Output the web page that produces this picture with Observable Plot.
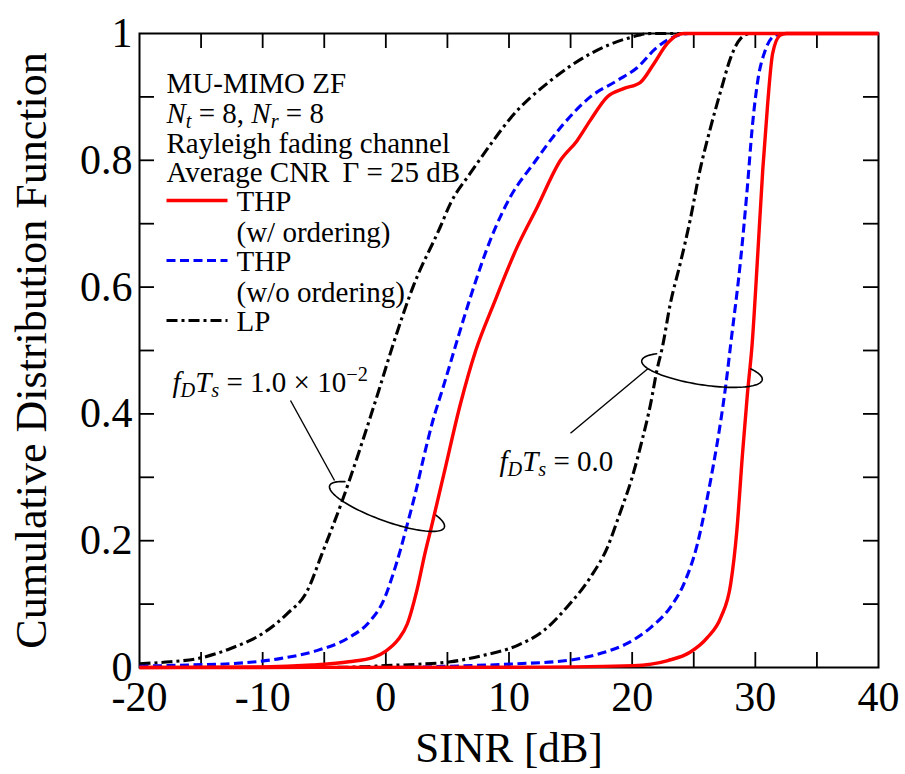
<!DOCTYPE html>
<html>
<head>
<meta charset="utf-8">
<script src="https://cdn.jsdelivr.net/npm/d3@7"></script>
<script src="https://cdn.jsdelivr.net/npm/@observablehq/plot@0.6"></script>
<style>
  html, body { margin: 0; padding: 0; background: #fff; }
</style>
</head>
<body>
<div id="chart"></div>
<script>
// ---------------- DATA ----------------
// f_D T_s = 1.0e-2
const sinrTHP_fd1 = [-20, -10, -6, -3, -1, 0, 1, 1.75, 2.5, 3.2, 3.63, 4.71, 6.06, 7.3, 8.77, 10.66, 12.29, 14.18, 15.53, 16.6, 17.97, 19.3, 20.67, 21.75, 22.84, 23.6, 24.2, 40];
const cdfTHP_fd1  = [0, 0.001, 0.004, 0.009, 0.016, 0.026, 0.044, 0.069, 0.12, 0.182, 0.216, 0.305, 0.416, 0.5, 0.574, 0.663, 0.726, 0.8, 0.831, 0.863, 0.9, 0.913, 0.923, 0.952, 0.984, 0.997, 1, 1];

const sinrTHPno_fd1 = [-20, -16, -12.6, -8.6, -5.55, -3.1, -1.25, -0.2, 0.6, 1.19, 1.73, 2.4, 3.08, 3.8, 4.62, 5.24, 5.79, 6.87, 8.5, 10.1, 12.0, 14.2, 16.6, 18.8, 20.4, 22.0, 23.7, 24.6, 40];
const cdfTHPno_fd1  = [0.002, 0.004, 0.006, 0.014, 0.027, 0.046, 0.074, 0.105, 0.148, 0.186, 0.225, 0.275, 0.332, 0.388, 0.44, 0.48, 0.516, 0.584, 0.675, 0.742, 0.795, 0.852, 0.9, 0.926, 0.946, 0.978, 0.997, 1, 1];

const sinrLP_fd1 = [-20, -17.5, -15.3, -12.6, -9.9, -8.0, -6.4, -5.17, -3.54, -2.06, -0.57, 0.6, 2.2, 4.4, 5.25, 6.87, 8.5, 10.1, 13.4, 16.6, 19.9, 21.5, 40];
const cdfLP_fd1  = [0.006, 0.009, 0.014, 0.03, 0.055, 0.085, 0.12, 0.18, 0.263, 0.347, 0.437, 0.51, 0.6, 0.694, 0.732, 0.78, 0.825, 0.866, 0.926, 0.968, 0.994, 1, 1];

// f_D T_s = 0.0
const sinrTHP_fd0 = [-20, 10, 20.1, 22.9, 24.7, 26.1, 27.2, 28.0, 28.5, 28.95, 29.35, 29.74, 30.2, 30.6, 31.0, 31.4, 32.0, 32.5, 40];
const cdfTHP_fd0  = [0, 0.0005, 0.003, 0.011, 0.024, 0.047, 0.079, 0.132, 0.216, 0.335, 0.43, 0.51, 0.653, 0.784, 0.889, 0.968, 0.997, 1, 1];

const sinrTHPno_fd0 = [-20, 0, 5.2, 10.7, 14.7, 17.4, 19.6, 21.5, 23.1, 24.2, 25.3, 26.1, 26.6, 27.2, 27.6, 28.0, 28.8, 29.35, 29.75, 30.2, 30.8, 31.6, 32.3, 40];
const cdfTHPno_fd0  = [0, 0, 0.002, 0.006, 0.011, 0.022, 0.038, 0.063, 0.095, 0.132, 0.195, 0.268, 0.32, 0.39, 0.445, 0.51, 0.642, 0.757, 0.852, 0.926, 0.973, 0.997, 1, 1];

const sinrLP_fd0 = [-20, -5, -2, 0, 2.5, 5.24, 7.9, 10.7, 12.8, 14.7, 16.6, 18.0, 19.0, 20.0, 20.8, 21.5, 22.0, 22.45, 23.1, 23.9, 24.7, 25.5, 26.3, 27.2, 28.0, 28.8, 29.6, 40];
const cdfLP_fd0  = [0, 0, 0.001, 0.003, 0.005, 0.009, 0.019, 0.035, 0.058, 0.095, 0.142, 0.19, 0.243, 0.3, 0.358, 0.416, 0.468, 0.505, 0.574, 0.637, 0.705, 0.784, 0.847, 0.91, 0.962, 0.992, 1, 1];

// Axis ticks and labels
const xTickLabels = [-20, -10, 0, 10, 20, 30, 40];
const xMinorTicks = [-15, -10, -5, 0, 5, 10, 15, 20, 25, 30, 35];
const yTickLabels = [0, 0.2, 0.4, 0.6, 0.8, 1];
const yMinorTicks = [0.1, 0.2, 0.3, 0.4, 0.5, 0.6, 0.7, 0.8, 0.9];
const xTitle = "SINR [dB]";
const yTitle = "Cumulative Distribution Function";

// Text annotations
const infoLines = ["MU-MIMO ZF", "Nt = 8, Nr = 8", "Rayleigh fading channel", "Average CNR \u2009\u0393 = 25 dB"];
const legendKinds  = ["THP", "THPno", "LP"];
const legendLabels = ["THP", "THP", "LP"];
const legendNotes  = ["(w/ ordering)", "(w/o ordering)", ""];
const richDefs = [
  [["N", "i"], ["t", "sub"], [" = 8, ", ""], ["N", "i"], ["r", "sub"], [" = 8", ""]],
  [["f", "i"], ["D", "sub"], ["T", "i"], ["s", "sub"], [" = 1.0 \u00d7 10", ""], ["\u22122", "sup"]],
  [["f", "i"], ["D", "sub"], ["T", "i"], ["s", "sub"], [" = 0.0", ""]]
];
const fdLabelFast = richDefs[1].map(s => s[0]).join("");
const fdLabelStatic = richDefs[2].map(s => s[0]).join("");

// ---------------- BUILD ----------------
const W = 905, H = 774, mL = 139, mR = 27, mT = 33, mB = 107;
const X = d3.scaleLinear([-20, 40], [mL, W - mR]);
const Y = d3.scaleLinear([0, 1], [H - mB, mT]);
const at = (px, py) => ({x: X.invert(px), y: Y.invert(py)});
const plotW = W - mL - mR, plotH = H - mT - mB;

const styles = {
  THP:   {stroke: "#ff0000", strokeWidth: 3.4},
  THPno: {stroke: "#0000ff", strokeWidth: 3.1, strokeDasharray: "9,4.5"},
  LP:    {stroke: "#000000", strokeWidth: 3.1, strokeDasharray: "11,4,3,4"}
};

const rows = (xs, ys) => xs.map((x, i) => ({sinr: x, cdf: ys[i]}));
const series = [
  {kind: "LP", data: rows(sinrLP_fd1, cdfLP_fd1)},
  {kind: "LP", data: rows(sinrLP_fd0, cdfLP_fd0)},
  {kind: "THPno", data: rows(sinrTHPno_fd1, cdfTHPno_fd1)},
  {kind: "THPno", data: rows(sinrTHPno_fd0, cdfTHPno_fd0)},
  {kind: "THP", data: rows(sinrTHP_fd1, cdfTHP_fd1)},
  {kind: "THP", data: rows(sinrTHP_fd0, cdfTHP_fd0)}
];

// Annotation ellipse (visible arc only), defined in pixel space then mapped to data
function ellipseArc(cx, cy, a, b, thetaDeg, t0, t1) {
  const th = thetaDeg * Math.PI / 180, pts = [];
  for (let k = 0; k <= 90; k++) {
    const t = (t0 + (t1 - t0) * k / 90) * Math.PI / 180;
    const u = a * Math.cos(t), v = b * Math.sin(t);
    pts.push(at(cx + u * Math.cos(th) - v * Math.sin(th), cy + u * Math.sin(th) + v * Math.cos(th)));
  }
  return pts;
}
const ring1 = ellipseArc(386.5, 506, 61, 14.5, 20, -36, 218);
const ring2 = ellipseArc(701.5, 369.7, 61, 14.5, 9, -38, 219);
const leaders = [
  {p1: at(290, 400), p2: at(334, 480)},
  {p1: at(570, 432.7), p2: at(647.3, 368.3)}
];

const infoRows = infoLines.map((t, i) => ({t, ...at(166, 92.7 + i * 29.7)}));
const legendRows = legendKinds.map((k, i) => ({k, lineY: 200 + i * 60, label: legendLabels[i], note: legendNotes[i]}));
const legendTexts = legendRows.flatMap(r => [
  {t: r.label, ...at(236, r.lineY + 10.5)},
  ...(r.note ? [{t: r.note, ...at(236, r.lineY + 41)}] : [])
]);
const fdRows = [
  {t: fdLabelFast, ...at(172, 391.5)},
  {t: fdLabelStatic, ...at(499, 470.5)}
];

const FONT = "'Liberation Serif', 'Times New Roman', Times, serif";

const chart = Plot.plot({
  width: W, height: H,
  marginLeft: mL, marginRight: mR, marginTop: mT, marginBottom: mB,
  x: {domain: [-20, 40]},
  y: {domain: [0, 1]},
  style: {fontFamily: FONT, background: "#fff", color: "#000"},
  marks: [
    Plot.frame({stroke: "#000", strokeWidth: 2}),
    // inward ticks on all four sides
    Plot.ruleX(xMinorTicks, {x: d => d, insetTop: plotH - 15, stroke: "#000", strokeWidth: 1.8}),
    Plot.ruleX(xMinorTicks, {x: d => d, insetBottom: plotH - 15, stroke: "#000", strokeWidth: 1.8}),
    Plot.ruleY(yMinorTicks, {y: d => d, insetRight: plotW - 15, stroke: "#000", strokeWidth: 1.8}),
    Plot.ruleY(yMinorTicks, {y: d => d, insetLeft: plotW - 15, stroke: "#000", strokeWidth: 1.8}),
    Plot.axisX(xTickLabels, {anchor: "bottom", tickSize: 0, tickPadding: 14, tickFormat: d => String(d), fontSize: 42, label: null}),
    Plot.axisY(yTickLabels, {anchor: "left", tickSize: 0, tickPadding: 7, tickFormat: d => String(d), fontSize: 42, label: null}),
    Plot.text([xTitle], {frameAnchor: "bottom", dy: 94, textAnchor: "middle", text: d => d, fontSize: 43}),
    Plot.text([yTitle], {frameAnchor: "left", dx: -108, rotate: -90, textAnchor: "middle", text: d => d, fontSize: 44}),
    // curves
    ...series.map(s => Plot.line(s.data, {x: "sinr", y: "cdf", curve: "monotone-x", strokeLinecap: "butt", ...styles[s.kind]})),
    // annotation text block
    Plot.text(infoRows, {x: "x", y: "y", text: "t", textAnchor: "start", lineAnchor: "bottom", fontSize: 29}),
    Plot.text(legendTexts, {x: "x", y: "y", text: "t", textAnchor: "start", lineAnchor: "bottom", fontSize: 29}),
    ...legendRows.map(r => Plot.link([r], {
      x1: () => X.invert(166), x2: () => X.invert(227),
      y1: d => Y.invert(d.lineY), y2: d => Y.invert(d.lineY),
      ...styles[r.k]
    })),
    // Doppler annotations
    Plot.line(ring1, {x: "x", y: "y", stroke: "#000", strokeWidth: 1.6}),
    Plot.line(ring2, {x: "x", y: "y", stroke: "#000", strokeWidth: 1.6}),
    Plot.link(leaders, {x1: d => d.p1.x, y1: d => d.p1.y, x2: d => d.p2.x, y2: d => d.p2.y, stroke: "#000", strokeWidth: 1.4}),
    Plot.text(fdRows, {x: "x", y: "y", text: "t", textAnchor: "start", lineAnchor: "bottom", fontSize: 29})
  ]
});

// Rich text (italics, sub/superscripts) as real SVG tspans
const rich = Object.fromEntries(richDefs.map(segs => [segs.map(s => s[0]).join(""), segs]));
chart.querySelectorAll("text").forEach(el => {
  const segs = rich[el.textContent];
  if (!segs) return;
  el.textContent = "";
  let off = 0;
  for (const [s, kind] of segs) {
    const ts = document.createElementNS("http://www.w3.org/2000/svg", "tspan");
    const target = kind === "sub" ? 5 : kind === "sup" ? -11 : 0;
    if (target !== off) ts.setAttribute("dy", target - off);
    off = target;
    if (kind === "i" || kind === "sub") ts.setAttribute("font-style", "italic");
    if (kind === "sub" || kind === "sup") ts.setAttribute("font-size", "0.7em");
    ts.textContent = s;
    el.appendChild(ts);
  }
});

document.getElementById("chart").appendChild(chart);
</script>
</body>
</html>
